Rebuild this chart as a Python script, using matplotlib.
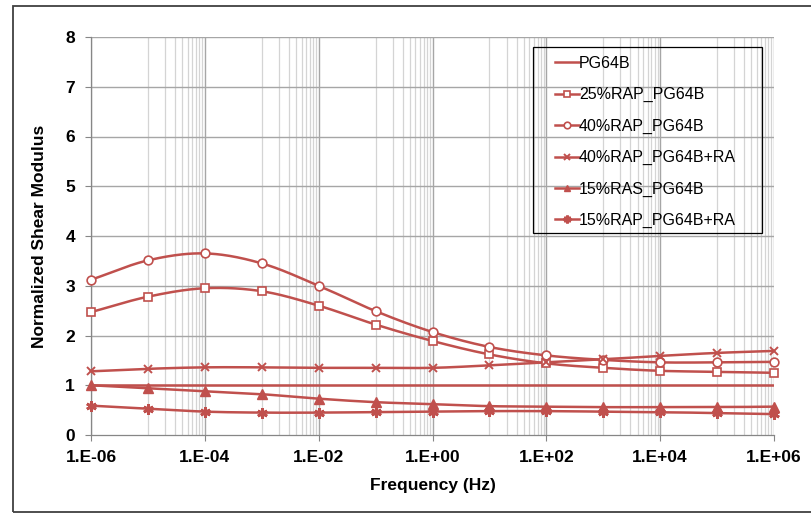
import numpy as np
import matplotlib
matplotlib.use("Agg")
import matplotlib.pyplot as plt
from matplotlib.patches import Rectangle
from matplotlib.lines import Line2D

plt.rcParams['font.family'] = ['Liberation Sans', 'DejaVu Sans']

freq = [1e-6, 1e-5, 1e-4, 1e-3, 1e-2, 1e-1, 1e0, 1e1, 1e2, 1e3, 1e4, 1e5, 1e6]
pg64b = [1.0] * 13
rap25 = [2.47, 2.78, 2.95, 2.89, 2.60, 2.22, 1.89, 1.62, 1.44, 1.35, 1.29, 1.27, 1.25]
rap40 = [3.12, 3.51, 3.65, 3.45, 3.00, 2.49, 2.07, 1.77, 1.60, 1.51, 1.46, 1.46, 1.47]
rap40_ra = [1.28, 1.33, 1.36, 1.36, 1.35, 1.35, 1.35, 1.40, 1.46, 1.52, 1.59, 1.65, 1.69]
ras15 = [1.00, 0.94, 0.88, 0.82, 0.73, 0.66, 0.62, 0.58, 0.57, 0.56, 0.56, 0.56, 0.57]
rap15_ra = [0.59, 0.53, 0.47, 0.45, 0.45, 0.46, 0.47, 0.48, 0.48, 0.47, 0.46, 0.44, 0.42]

labels = ["PG64B", "25%RAP_PG64B", "40%RAP_PG64B", "40%RAP_PG64B+RA",
          "15%RAS_PG64B", "15%RAP_PG64B+RA"]
series = [pg64b, rap25, rap40, rap40_ra, ras15, rap15_ra]
color = "#C0504D"
styles = [
    dict(marker=None),
    dict(marker='s', ms=5.5, mfc='white', mec=color, mew=1.2),
    dict(marker='o', ms=6.3, mfc='white', mec=color, mew=1.2),
    dict(marker='x', ms=5.5, mfc=color, mec=color, mew=1.4),
    dict(marker='^', ms=6.5, mfc=color, mec=color, mew=1.0),
    dict(marker=(6, 2, 0), ms=7.5, mfc=color, mec=color, mew=2.0),
]


def smooth(xs, ys, n=30):
    # Catmull-Rom spline in log10(x) space (Excel-like smoothed line)
    u = np.log10(np.asarray(xs, float))
    v = np.asarray(ys, float)
    P = np.column_stack([u, v])
    P = np.vstack([P[0] - (P[1] - P[0]), P, P[-1] + (P[-1] - P[-2])])
    out = []
    t = np.linspace(0, 1, n, endpoint=False)[:, None]
    for i in range(1, len(P) - 2):
        p0, p1, p2, p3 = P[i - 1], P[i], P[i + 1], P[i + 2]
        m1 = (p2 - p0) / 2.0
        m2 = (p3 - p1) / 2.0
        h00 = 2 * t**3 - 3 * t**2 + 1
        h10 = t**3 - 2 * t**2 + t
        h01 = -2 * t**3 + 3 * t**2
        h11 = t**3 - t**2
        out.append(h00 * p1 + h10 * m1 + h01 * p2 + h11 * m2)
    out.append(P[-2][None, :])
    out = np.vstack(out)
    return 10 ** out[:, 0], out[:, 1]


fig = plt.figure(figsize=(8.11, 5.13), dpi=100)
ax = fig.add_axes([91 / 811, 1 - 435 / 513, (774 - 91) / 811, (435 - 37) / 513])

ax.set_xscale('log')
ax.set_xlim(1e-6, 1e6)
ax.set_ylim(0, 8)

# grid lines (Excel-style)
majors = [10.0 ** e for e in range(-6, 7, 2)]
for lo in majors[:-1]:
    for k in range(1, 10):
        ax.axvline(lo * 10 * k, color='#D4D4D4', lw=0.9, zorder=0)
for m in majors:
    ax.axvline(m, color='#A6A6A6', lw=1.0, zorder=0)
for yv in range(1, 9):
    ax.axhline(yv, color='#A6A6A6', lw=1.0, zorder=0)

ax.set_xticks(majors)
ax.set_xticklabels(["1.E-06", "1.E-04", "1.E-02", "1.E+00", "1.E+02", "1.E+04", "1.E+06"])
ax.xaxis.set_minor_locator(matplotlib.ticker.NullLocator())
ax.set_yticks(range(0, 9))
ax.tick_params(axis='both', which='major', direction='out', length=4.5, width=0.8,
               color='#868686', labelsize=12.5)
ax.tick_params(axis='y', pad=7)
ax.tick_params(axis='x', pad=6)
for lab in ax.get_xticklabels() + ax.get_yticklabels():
    lab.set_fontweight('bold')

for s in ['top', 'right']:
    ax.spines[s].set_visible(False)
for s in ['left', 'bottom']:
    ax.spines[s].set_color('#868686')
    ax.spines[s].set_linewidth(0.9)

handles = []
for lab, ys, st in zip(labels, series, styles):
    sx, sy = smooth(freq, ys)
    ax.plot(sx, sy, color=color, lw=1.8, zorder=3, solid_capstyle='round')
    if st.get('marker') is not None:
        ax.plot(freq, ys, ls='none', zorder=4, clip_on=False, **st)
    h = Line2D([], [], color=color, lw=1.8, **{k: v for k, v in st.items()})
    handles.append(h)

ax.set_xlabel("Frequency (Hz)", fontsize=12.5, fontweight='bold', labelpad=10)
ax.set_ylabel("Normalized Shear Modulus", fontsize=12.5, fontweight='bold', labelpad=13)

# legend
leg = fig.legend(handles, labels, loc='upper left',
                 bbox_to_anchor=(547 / 811, 1 - 48 / 513),
                 frameon=False, fontsize=11.5, handlelength=1.5, handletextpad=0.0,
                 labelspacing=1.02, markerscale=0.75, borderpad=0.0)
fig.patches.append(Rectangle((533 / 811, 1 - 233 / 513), (762 - 533) / 811, (233 - 47) / 513,
                             transform=fig.transFigure, fill=False, ec='black', lw=0.9))

# outer chart border
fig.patches.append(Rectangle((13 / 811, 1 - 512 / 513), 1.2, (512 - 6) / 513,
                             transform=fig.transFigure, fill=False, ec='#404040', lw=1.3))

fig.savefig("out.png", dpi=100)
